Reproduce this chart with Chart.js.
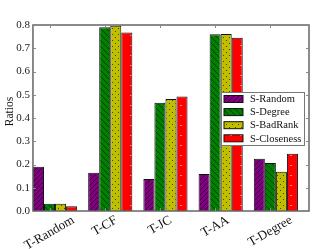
<!DOCTYPE html>
<html>
<head>
<meta charset="utf-8">
<script src="https://cdn.jsdelivr.net/npm/chart.js@4.4.0/dist/chart.umd.min.js"></script>
<style>
  html, body { margin: 0; padding: 0; background: #fff; }
</style>
</head>
<body>
<canvas id="ratioChart" width="332" height="249"></canvas>
<script>
// values
var groups = ['T-Random', 'T-CF', 'T-JC', 'T-AA', 'T-Degree'];
var sRandom = [0.19, 0.165, 0.138, 0.159, 0.225];
var sDegree = [0.031, 0.79, 0.466, 0.76, 0.206];
var sBadRank = [0.031, 0.797, 0.482, 0.761, 0.169];
var sCloseness = [0.02, 0.768, 0.493, 0.745, 0.246];
var seriesNames = ['S-Random', 'S-Degree', 'S-BadRank', 'S-Closeness'];
var yTitle = 'Ratios';

var serif = '"Liberation Serif", "DejaVu Serif", serif';

// small tiled hatch fills
function makePattern(base, size, draw) {
    var c = document.createElement('canvas');
    c.width = size;
    c.height = size;
    var g = c.getContext('2d');
    g.fillStyle = base;
    g.fillRect(0, 0, size, size);
    draw(g, size);
    return g.createPattern(c, 'repeat');
}

var purpleFill = makePattern('#800080', 5, function (g, s) {
    g.strokeStyle = 'rgba(40,0,40,0.75)';
    g.lineWidth = 1;
    g.beginPath();
    g.moveTo(0, s); g.lineTo(s, 0);
    g.moveTo(-1, 1); g.lineTo(1, -1);
    g.moveTo(s - 1, s + 1); g.lineTo(s + 1, s - 1);
    g.stroke();
});
var greenFill = makePattern('#008000', 6, function (g, s) {
    g.strokeStyle = 'rgba(0,40,0,0.7)';
    g.lineWidth = 1;
    g.beginPath();
    g.moveTo(0, 0); g.lineTo(s, s);
    g.moveTo(s - 1, -1); g.lineTo(s + 1, 1);
    g.moveTo(-1, s - 1); g.lineTo(1, s + 1);
    g.stroke();
});
var yellowFill = makePattern('#bfbf00', 6, function (g, s) {
    g.fillStyle = 'rgba(40,40,0,0.8)';
    g.fillRect(1, 1, 1, 1);
    g.fillRect(4, 4, 1, 1);
});
var redFill = makePattern('#ff0000', 10, function (g, s) {
    g.fillStyle = 'rgba(255,170,170,0.8)';
    g.fillRect(0, 5, 2, 1);
});

function toPoints(values) {
    return values.map(function (v, i) {
        return { x: i + 0.4, y: v };
    });
}

// frame, inward ticks, axis title, rotated group labels and the legend box
var decorations = {
    id: 'decorations',
    afterDraw: function (chart) {
        var ctx = chart.ctx;
        var a = chart.chartArea;
        var xs = chart.scales.x;
        var ys = chart.scales.y;
        ctx.save();

        ctx.strokeStyle = '#666';
        ctx.lineWidth = 1.5;
        ctx.strokeRect(a.left, a.top, a.right - a.left, a.bottom - a.top);

        ctx.strokeStyle = '#888';
        ctx.lineWidth = 1;
        ctx.beginPath();
        ys.ticks.forEach(function (t) {
            var y = Math.round(ys.getPixelForValue(t.value)) + 0.5;
            ctx.moveTo(a.left, y); ctx.lineTo(a.left + 3, y);
            ctx.moveTo(a.right, y); ctx.lineTo(a.right - 3, y);
        });
        groups.forEach(function (g, i) {
            var x = Math.round(xs.getPixelForValue(i + 0.3)) + 0.5;
            ctx.moveTo(x, a.top); ctx.lineTo(x, a.top + 3);
            ctx.moveTo(x, a.bottom); ctx.lineTo(x, a.bottom - 3);
        });
        ctx.stroke();

        // y title, a little above the axis middle as in the original
        ctx.fillStyle = '#111';
        ctx.font = '11.5px ' + serif;
        ctx.textAlign = 'center';
        ctx.textBaseline = 'middle';
        ctx.save();
        ctx.translate(10, (a.top + a.bottom) / 2 - 6.5);
        ctx.rotate(-Math.PI / 2);
        ctx.fillText(yTitle, 0, 0);
        ctx.restore();

        var fs = 13;
        ctx.font = fs + 'px ' + serif;
        var ang = Math.PI / 6;
        groups.forEach(function (g, i) {
            var w = ctx.measureText(g).width;
            var bh = w * Math.sin(ang) + fs * 0.75 * Math.cos(ang);
            var cx = xs.getPixelForValue(i + 0.3);
            var cy = a.bottom + 4 + bh / 2;
            ctx.save();
            ctx.translate(cx, cy);
            ctx.rotate(-ang);
            ctx.fillText(g, 0, 0);
            ctx.restore();
        });

        var bw = 83, bhx = 53;
        var lx = a.right - 5 - bw;
        var ly = (a.top + a.bottom) / 2 - bhx / 2 + 0.5;
        ctx.fillStyle = '#fff';
        ctx.fillRect(lx, ly, bw, bhx);
        ctx.strokeStyle = '#777';
        ctx.lineWidth = 1;
        ctx.strokeRect(Math.round(lx) + 0.5, Math.round(ly) + 0.5, bw, bhx);
        ctx.font = '10.5px ' + serif;
        ctx.textAlign = 'left';
        chart.data.datasets.forEach(function (ds, i) {
            var rowY = ly + 7 + i * 13.1;
            ctx.fillStyle = ds.backgroundColor;
            ctx.fillRect(lx + 3, rowY - 3.5, 19, 7);
            ctx.strokeStyle = '#111';
            ctx.strokeRect(lx + 3, rowY - 3.5, 19, 7);
            ctx.fillStyle = '#111';
            ctx.fillText(ds.label, lx + 29, rowY + 0.5);
        });
        ctx.restore();
    }
};

var fills = [purpleFill, greenFill, yellowFill, redFill];
var allSeries = [sRandom, sDegree, sBadRank, sCloseness];

var ctx = document.getElementById('ratioChart').getContext('2d');
var ratioChart = new Chart(ctx, {
    type: 'bar',
    data: {
        datasets: allSeries.map(function (vals, i) {
            return {
                label: seriesNames[i],
                data: toPoints(vals),
                backgroundColor: fills[i],
                borderColor: '#111',
                borderWidth: 1,
                categoryPercentage: 0.8,
                barPercentage: 1.0,
            };
        }),
    },
    options: {
        responsive: false,
        animation: false,
        layout: {
            padding: { top: 25, right: 23, bottom: 38, left: 13.2 },
        },
        scales: {
            x: {
                type: 'linear',
                display: false,
                offset: false,
                min: 0,
                max: 5,
                afterBuildTicks: function (scale) {
                    scale.ticks = groups.map(function (g, i) {
                        return { value: i + 0.3 };
                    });
                },
            },
            y: {
                min: 0,
                max: 0.8,
                grid: { display: false, drawTicks: false },
                border: { display: false },
                ticks: {
                    stepSize: 0.1,
                    padding: 3,
                    color: '#222',
                    font: { family: serif, size: 11 },
                    callback: function (v) { return v.toFixed(1); },
                },
            },
        },
        plugins: {
            legend: { display: false },
            tooltip: { enabled: false },
        },
    },
    plugins: [decorations],
});
</script>
</body>
</html>
